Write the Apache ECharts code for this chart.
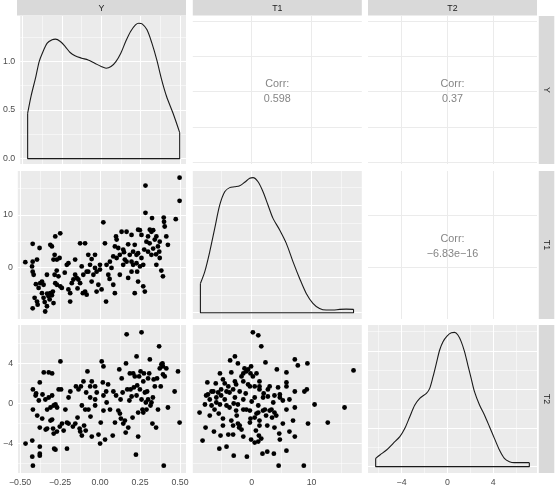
<!DOCTYPE html>
<html>
<head>
<meta charset="utf-8">
<script src="https://cdn.jsdelivr.net/npm/echarts@6/dist/echarts.min.js"></script>
<style>
  html, body { margin: 0; padding: 0; background: #fff; }
  #chart { width: 557px; height: 488px; }
</style>
</head>
<body>
<div id="chart"></div>
<script>
// variables of the pairs plot
const varNames = ['Y', 'T1', 'T2']

// axis ranges (ggplot expanded data ranges)
const yRange = [-0.513, 0.537]
const t1Range = [-9.83, 18.38]
const t2Range = [-6.93, 7.83]

// ticks and labels
const yMajor = [-0.5, -0.25, 0, 0.25, 0.5]
const yMinor = [-0.375, -0.125, 0.125, 0.375]
const yLabels = ['\u22120.50', '\u22120.25', '0.00', '0.25', '0.50']
const t1Major = [0, 10]
const t1Minor = [-5, 5, 15]
const t1Labels = ['0', '10']
const t2Major = [-4, 0, 4]
const t2Minor = [-6, -2, 2, 6]
const t2Labels = ['\u22124', '0', '4']

// density panel y scales
const yDensRange = [-0.055, 1.465]
const yDensMajor = [0, 0.5, 1.0]
const yDensMinor = [0.25, 0.75, 1.25]
const yDensLabels = ['0.0', '0.5', '1.0']
const t1DensRange = [-0.0035, 0.0793]
const t1DensMajor = [0, 0.02, 0.04, 0.06]
const t1DensMinor = [0.01, 0.03, 0.05, 0.07]
const t2DensRange = [-0.0082, 0.1836]
const t2DensMajor = [0, 0.05, 0.1, 0.15]
const t2DensMinor = [0.025, 0.075, 0.125, 0.175]

// density curves
const yDensX = [-0.466, -0.445, -0.414, -0.393, -0.373, -0.342, -0.311, -0.290, -0.259, -0.228, -0.197, -0.166, -0.124, -0.083, -0.041, 0.0, 0.031, 0.062, 0.093, 0.124, 0.155, 0.186, 0.217, 0.238, 0.259, 0.290, 0.321, 0.352, 0.383, 0.414, 0.455, 0.497]
const yDensY = [0.466, 0.638, 0.843, 0.997, 1.083, 1.186, 1.220, 1.227, 1.203, 1.151, 1.090, 1.056, 1.032, 1.014, 0.980, 0.946, 0.929, 0.946, 0.997, 1.083, 1.203, 1.306, 1.374, 1.391, 1.384, 1.323, 1.186, 1.014, 0.809, 0.638, 0.466, 0.268]
const t1DensX = [-8.56, -7.83, -7.0, -6.17, -5.33, -4.5, -3.67, -2.83, -2.0, -1.17, -0.33, 0.22, 1.06, 1.89, 2.72, 3.56, 4.67, 5.78, 6.89, 8.0, 9.11, 10.22, 11.33, 12.44, 13.56, 14.67, 15.78, 17.0]
const t1DensY = [0.0164, 0.0230, 0.0342, 0.0472, 0.0603, 0.0677, 0.0700, 0.0705, 0.0711, 0.0730, 0.0752, 0.0756, 0.0733, 0.0677, 0.0603, 0.0528, 0.0463, 0.0388, 0.0286, 0.0192, 0.0108, 0.0053, 0.0024, 0.0015, 0.0015, 0.0019, 0.0020, 0.0019]
const t2DensX = [-6.26, -5.89, -5.31, -4.73, -4.15, -3.71, -3.28, -2.84, -2.41, -1.83, -1.54, -1.25, -0.96, -0.67, -0.38, -0.03, 0.35, 0.63, 0.92, 1.21, 1.50, 1.79, 2.08, 2.37, 2.81, 3.24, 3.68, 4.11, 4.55, 4.98, 5.42, 5.85, 6.29, 6.72, 7.16]
const t2DensY = [0.0108, 0.0152, 0.0216, 0.0303, 0.0389, 0.0497, 0.0648, 0.0799, 0.0886, 0.0950, 0.1015, 0.1166, 0.1339, 0.1512, 0.1620, 0.1693, 0.1736, 0.1740, 0.1706, 0.1620, 0.1490, 0.1317, 0.1145, 0.0972, 0.0799, 0.0670, 0.0518, 0.0367, 0.0216, 0.0108, 0.0065, 0.0052, 0.0052, 0.0052, 0.0052]

// scatter points [x, y]
const yT1Points = [
  [-0.466, 1.0], [-0.42, 4.5], [-0.42, 1.1], [-0.424, 0.2], [-0.42, -0.8], [-0.414, -1.4], [-0.408, -5.8], [-0.42, -7.8],
  [-0.393, 1.5], [-0.393, -6.5], [-0.389, -7.1], [-0.377, 3.7], [-0.373, -3.0], [-0.362, -2.7], [-0.352, -3.3], [-0.383, -3.9],
  [-0.342, -8.4], [-0.331, -7.4], [-0.321, -5.5], [-0.31, -4.9], [-0.3, -5.3], [-0.314, -6.1], [-0.29, -6.8], [-0.31, 4.3],
  [-0.3, 4.0], [-0.279, 5.9], [-0.248, 6.5], [-0.283, 2.4], [-0.29, 1.5], [-0.269, 1.5], [-0.283, -1.4], [-0.259, -1.7],
  [-0.331, -1.4], [-0.279, -3.0], [-0.269, -3.3], [-0.248, -3.6], [-0.238, -3.9], [-0.352, -5.8], [-0.362, -4.9], [-0.294, -4.6],
  [-0.252, 1.8], [-0.207, 0.5], [-0.197, 0.8], [-0.186, -6.5], [-0.186, -4.9], [-0.197, -4.2], [-0.155, 1.5], [-0.155, -1.4],
  [-0.145, -2.0], [-0.135, -2.3], [-0.124, -3.0], [-0.124, 4.6], [-0.093, 4.6], [-0.093, -4.6], [-0.107, -4.9], [-0.083, -5.2],
  [-0.073, 2.4], [-0.073, -0.8], [-0.062, 0.5], [-0.052, -2.7], [-0.041, -1.4], [-0.031, -0.1], [-0.021, -0.8], [0.0, 0.5],
  [0.0, -0.4], [-0.01, -3.3], [0.01, -4.2], [0.021, 8.6], [0.031, 4.6], [0.038, -6.5], [-0.083, -0.8], [-0.104, -1.4],
  [-0.114, 0.2], [-0.166, -2.3], [-0.176, -3.0], [-0.021, -4.6], [-0.031, 2.4], [-0.052, 1.6], [0.041, 0.5], [0.052, -1.4],
  [0.083, -3.3], [0.093, -4.9], [0.1, 5.9], [0.104, 1.8], [0.114, 3.7], [0.124, 2.4], [0.135, 6.8], [0.145, 3.4],
  [0.155, 1.5], [0.166, 6.8], [0.166, 1.1], [0.176, 4.4], [0.176, -2.0], [0.186, 2.4], [0.197, 1.1], [0.197, -0.8],
  [0.207, 3.0], [0.207, 0.5], [0.217, -4.9], [0.217, 4.3], [0.228, 2.4], [0.228, 0.8], [0.232, -0.8], [0.238, -2.7],
  [0.238, 7.2], [0.145, 0.5], [0.124, -1.4], [0.072, -0.1], [0.083, 2.1], [0.062, 1.1], [0.104, 5.3], [0.093, 4.0],
  [0.197, 6.2], [0.238, 2.7], [0.249, 7.1], [0.259, 6.2], [0.27, 0.5], [0.27, -3.6], [0.28, -4.6], [0.284, 10.4],
  [0.284, 15.6], [0.29, 4.9], [0.3, 5.9], [0.311, 7.2], [0.321, 6.8], [0.332, 7.1], [0.325, 9.4], [0.342, 5.3],
  [0.352, 5.9], [0.352, 0.5], [0.362, 4.0], [0.37, 3.0], [0.373, 1.8], [0.383, -0.6], [0.393, -1.7], [0.398, 9.5],
  [0.4, 8.7], [0.404, 7.8], [0.414, 5.9], [0.424, 4.3], [0.473, 9.2], [0.497, 12.7], [0.497, 17.1], [0.321, 2.4],
  [0.3, 3.0], [0.332, 3.6], [0.373, 4.9], [0.259, 1.8], [0.276, 3.4], [-0.4, -3.2], [-0.345, -6.6], [-0.33, -5.0],
  [-0.22, -1.0], [-0.14, -4.0], [0.06, -2.2], [0.15, 2.9], [0.25, 0.2], [0.31, 4.6], [0.35, 2.5], [-0.27, -0.6]
]

const yT2Points = [
  [-0.466, -4.0], [-0.424, -3.7], [-0.424, -5.3], [-0.42, -6.2], [-0.42, -0.6], [-0.42, 1.4], [-0.403, 0.8], [-0.393, -1.2],
  [-0.383, 0.3], [-0.377, 2.1], [-0.377, -4.3], [-0.377, -5.0], [-0.377, -5.2], [-0.377, -2.4], [-0.362, -1.5], [-0.352, 3.1],
  [-0.342, 0.4], [-0.331, -0.6], [-0.331, -2.5], [-0.321, 3.1], [-0.321, 0.6], [-0.31, -0.4], [-0.31, -1.7], [-0.3, 3.0],
  [-0.3, 0.8], [-0.294, -2.5], [-0.29, -0.2], [-0.29, -3.0], [-0.287, -4.5], [-0.279, -4.6], [-0.279, -0.1], [-0.269, -0.4],
  [-0.259, 1.4], [-0.252, -2.3], [-0.248, 4.2], [-0.244, 1.4], [-0.238, -2.0], [-0.228, -2.7], [-0.217, -0.6], [-0.207, -1.9],
  [-0.207, -4.5], [-0.197, -2.0], [-0.197, 0.6], [-0.186, 1.2], [-0.155, -2.0], [-0.151, 1.7], [-0.141, -1.4], [-0.135, 1.4],
  [-0.128, -2.5], [-0.124, -2.8], [-0.12, 1.7], [-0.114, -3.2], [-0.114, -0.2], [-0.104, 2.2], [-0.1, -2.2], [-0.093, -0.6],
  [-0.087, 1.1], [-0.079, 3.2], [-0.073, -0.6], [-0.062, 1.7], [-0.062, 0.6], [-0.052, -3.3], [-0.052, 2.2], [-0.031, 1.7],
  [-0.031, 0.4], [-0.031, -0.2], [-0.021, 1.1], [-0.01, -3.1], [0.0, -4.0], [0.004, -1.9], [0.01, 4.2], [0.017, 2.1],
  [0.021, 3.7], [0.021, 0.8], [0.021, -0.7], [0.031, -3.6], [0.038, 1.2], [0.041, 0.1], [0.062, -0.6], [0.079, -3.2],
  [0.083, 1.2], [0.093, -1.9], [0.1, 0.8], [0.114, -0.7], [0.12, 3.4], [0.124, -1.0], [0.128, 0.4], [0.135, 2.5],
  [0.141, 1.1], [0.145, -2.0], [0.155, -1.7], [0.162, 4.0], [0.166, 6.9], [0.17, 1.4], [0.176, -2.4], [0.183, 0.3],
  [0.186, 3.0], [0.19, 1.4], [0.197, 0.7], [0.203, -1.4], [0.207, 3.0], [0.211, 1.6], [0.217, 2.7], [0.224, -5.1],
  [0.228, 4.7], [0.228, 0.8], [0.232, 1.8], [0.238, -3.3], [0.238, -0.9], [0.244, 2.7], [0.249, 1.4], [0.253, 3.2],
  [0.259, 7.1], [0.259, 0.4], [0.265, -0.6], [0.27, 2.2], [0.274, 3.0], [0.28, 1.1], [0.286, 0.1], [0.29, -0.6],
  [0.294, 1.2], [0.3, 0.4], [0.307, 3.0], [0.311, 4.4], [0.315, -0.2], [0.321, 0.1], [0.327, -2.0], [0.335, 2.4],
  [0.342, 1.7], [0.35, -2.4], [0.356, 2.5], [0.362, -0.6], [0.369, 5.7], [0.373, 3.5], [0.379, 1.7], [0.383, 3.9],
  [0.39, 4.0], [0.393, 2.9], [0.398, -6.2], [0.404, 2.7], [0.414, 3.5], [0.424, -0.4], [0.466, 1.2], [0.487, 3.2],
  [0.497, -1.9], [0.393, 3.7], [-0.36, 0.9], [-0.34, -2.6], [-0.27, -2.8], [-0.17, -2.3], [-0.06, -1.3], [0.05, 1.9],
  [0.13, -1.5], [0.27, -0.9], [0.33, 0.6], [-0.4, 1.0], [-0.3, -1.6], [-0.09, -2.7], [0.16, -2.9], [0.3, 2.5]
]

const t1T2Points = [
  [0.2, 7.1], [1.1, 6.8], [1.6, 5.7], [-2.8, 4.7], [-3.6, 4.3], [-2.3, 4.0], [2.3, 4.1], [7.2, 4.4],
  [9.3, 4.0], [7.7, 3.8], [17.0, 3.3], [4.2, 3.4], [5.8, 3.1], [-1.2, 3.5], [-0.6, 3.4], [-0.2, 3.0],
  [-1.4, 3.0], [-5.3, 3.0], [-3.4, 3.1], [0.8, 3.0], [-7.4, 2.1], [-4.8, 2.4], [-2.8, 2.2], [-1.7, 2.7],
  [0.2, 2.7], [1.3, 2.2], [-0.6, 1.9], [-0.3, 1.7], [1.3, 1.7], [3.0, 1.7], [4.4, 1.6], [5.8, 2.1],
  [5.8, 1.7], [7.2, 1.2], [9.2, 1.4], [8.8, 1.2], [-6.4, 1.2], [-5.6, 1.1], [-5.1, 0.8], [-4.2, 1.2],
  [-3.7, 1.1], [-3.1, 1.4], [-2.0, 1.2], [-7.6, 0.8], [-7.0, 0.4], [-5.9, 0.6], [-4.5, 0.4], [-2.8, 0.6],
  [-1.4, 0.4], [0.5, 0.6], [2.7, 0.7], [3.8, 0.8], [4.7, 0.6], [6.3, 0.4], [-7.8, -0.1], [-6.7, -0.2],
  [-6.2, -0.6], [-8.7, -0.9], [-5.3, -0.1], [-3.7, -0.4], [-2.3, -0.1], [-0.9, -0.6], [-0.3, -0.7], [1.1, -0.2],
  [2.2, -0.6], [3.3, -0.6], [3.8, -0.9], [5.2, 0.3], [7.2, -0.4], [10.5, -0.1], [15.5, -0.4], [-7.0, -1.2],
  [-4.8, -1.5], [-3.4, -1.7], [-2.0, -2.2], [-0.2, -1.5], [0.5, -1.4], [1.3, -1.7], [2.4, -1.2], [3.4, -1.4],
  [4.1, -1.2], [5.2, -2.0], [6.9, -1.7], [9.4, -2.0], [12.7, -1.9], [-7.7, -2.4], [-6.3, -2.8], [-5.2, -3.2],
  [-3.9, -3.1], [-3.1, -3.1], [-2.1, -2.4], [-1.7, -2.6], [0.7, -2.7], [1.2, -3.2], [2.6, -2.2], [3.8, -2.4],
  [4.6, -3.0], [4.7, -3.6], [6.3, -2.8], [7.2, -3.3], [-8.2, -3.7], [-5.4, -4.5], [-4.2, -4.3], [0.5, -3.9],
  [1.1, -3.8], [-3.0, -5.2], [-0.8, -5.3], [1.8, -5.0], [2.6, -4.8], [3.7, -5.0], [5.8, -4.7], [4.5, -6.2],
  [8.7, -6.2], [-7.3, 0.9], [-6.7, 1.2], [-5.1, 1.4], [-3.9, 1.7], [-2.6, 1.9], [-1.4, 2.2], [-0.9, 3.2],
  [-0.1, 3.7], [1.3, 1.4], [1.9, 0.6], [1.1, -0.9], [1.9, -0.7], [3.0, -0.7], [-1.4, -0.6], [-2.6, -0.7],
  [-4.2, -0.2], [-5.9, 0.1], [-3.1, -2.2], [-2.3, -2.0], [-0.3, -1.9], [1.3, -2.2], [-0.1, -3.6], [1.6, -3.5],
  [-1.4, -3.3], [-4.8, -2.2], [4.7, 0.9], [5.8, -0.6], [3.6, 0.1], [0.5, 1.7], [2.7, 1.4], [-6.0, 2.0],
  [-4.5, 2.0], [-3.0, 0.0], [-1.0, 1.0], [0.0, 0.2], [0.8, -1.0], [2.0, 1.0], [-2.5, -1.2], [-5.5, -1.0]
]

// correlations shown in the upper panels: [row, col, text]
const corrCells = [[0, 1], [0, 2], [1, 2]]
const corrText = ['0.598', '0.37', '\u22126.83e\u221216']

// layout
const colLeft = [17, 192.8, 368]
const rowTop = [16, 171, 325]
const panelW = 169
const panelH = 148
const stripSize = 15.5

const varRanges = [yRange, t1Range, t2Range]
const varMajor = [yMajor, t1Major, t2Major]
const varMinor = [yMinor, t1Minor, t2Minor]
const varLabels = [yLabels, t1Labels, t2Labels]
const densRanges = [yDensRange, t1DensRange, t2DensRange]
const densMajor = [yDensMajor, t1DensMajor, t2DensMajor]
const densMinor = [yDensMinor, t1DensMinor, t2DensMinor]
const densX = [yDensX, t1DensX, t2DensX]
const densY = [yDensY, t1DensY, t2DensY]
const scatterData = { '1,0': yT1Points, '2,0': yT2Points, '2,1': t1T2Points }

const font = 'Liberation Sans, Arial, Helvetica, sans-serif'
const chart = echarts.init(document.getElementById('chart'))

function labelFor(ticks, labels) {
  return function(v) {
    for (let i = 0; i < ticks.length; i++) {
      if (Math.abs(ticks[i] - v) < 1e-9) return labels[i]
    }
    return ''
  }
}

function gridSeries(idx, xTicks, yTicks, xR, yR, color, width) {
  const data = []
  xTicks.forEach(v => data.push({ coords: [[v, yR[0]], [v, yR[1]]] }))
  yTicks.forEach(v => data.push({ coords: [[xR[0], v], [xR[1], v]] }))
  return {
    type: 'lines',
    coordinateSystem: 'cartesian2d',
    xAxisIndex: idx,
    yAxisIndex: idx,
    silent: true,
    z: 1,
    lineStyle: { color: color, width: width, opacity: 1 },
    data: data
  }
}

const grids = []
const xAxes = []
const yAxes = []
const series = []
const graphics = []

for (let r = 0; r < 3; r++) {
  for (let c = 0; c < 3; c++) {
    const idx = r * 3 + c
    const upper = r < c
    const diag = r === c
    const xR = varRanges[c]
    const yR = diag ? densRanges[r] : (upper && r === 0 ? yRange : varRanges[r])
    grids.push({
      left: colLeft[c],
      top: rowTop[r],
      width: panelW,
      height: panelH,
      show: true,
      backgroundColor: upper ? '#FFFFFF' : '#EBEBEB',
      borderWidth: 0
    })
    const bottomRow = r === 2
    xAxes.push({
      type: 'value',
      gridIndex: idx,
      min: xR[0],
      max: xR[1],
      axisLine: { show: false },
      splitLine: { show: false },
      axisTick: {
        show: bottomRow,
        customValues: varMajor[c],
        length: 3,
        lineStyle: { color: '#333333', width: 0.8 }
      },
      axisLabel: {
        show: bottomRow,
        customValues: varMajor[c],
        margin: 5,
        color: '#4D4D4D',
        fontSize: 8.8,
        fontFamily: font,
        formatter: labelFor(varMajor[c], varLabels[c])
      }
    })
    const firstCol = c === 0
    const yTickVals = r === 0 ? yDensMajor : varMajor[r]
    const yTickLabels = r === 0 ? yDensLabels : varLabels[r]
    yAxes.push({
      type: 'value',
      gridIndex: idx,
      min: yR[0],
      max: yR[1],
      axisLine: { show: false },
      splitLine: { show: false },
      axisTick: {
        show: firstCol,
        customValues: yTickVals,
        length: 3,
        lineStyle: { color: '#333333', width: 0.8 }
      },
      axisLabel: {
        show: firstCol,
        customValues: yTickVals,
        margin: 5,
        color: '#4D4D4D',
        fontSize: 8.8,
        fontFamily: font,
        formatter: labelFor(yTickVals, yTickLabels)
      }
    })

    // grid lines
    if (upper) {
      series.push(gridSeries(idx, varMajor[c], r === 0 ? yMajor : varMajor[r], xR, yR, '#EBEBEB', 1))
    } else {
      const yMaj = diag ? densMajor[r] : varMajor[r]
      const yMin = diag ? densMinor[r] : varMinor[r]
      series.push(gridSeries(idx, varMinor[c], yMin, xR, yR, '#FFFFFF', 0.5))
      series.push(gridSeries(idx, varMajor[c], yMaj, xR, yR, '#FFFFFF', 1.05))
    }

    if (diag) {
      const xs = densX[r]
      const ys = densY[r]
      const n = xs.length
      series.push({
        type: 'line',
        xAxisIndex: idx,
        yAxisIndex: idx,
        data: xs.map((x, i) => [x, ys[i]]),
        showSymbol: false,
        smooth: 0.3,
        z: 3,
        lineStyle: { color: '#1A1A1A', width: 1.1 }
      })
      series.push({
        type: 'line',
        xAxisIndex: idx,
        yAxisIndex: idx,
        data: [[xs[0], ys[0]], [xs[0], 0], [xs[n - 1], 0], [xs[n - 1], ys[n - 1]]],
        showSymbol: false,
        z: 3,
        lineStyle: { color: '#1A1A1A', width: 1.1 }
      })
    } else if (!upper) {
      series.push({
        type: 'scatter',
        xAxisIndex: idx,
        yAxisIndex: idx,
        data: scatterData[r + ',' + c],
        symbolSize: 4.8,
        z: 3,
        itemStyle: { color: '#000000', opacity: 1 }
      })
    }
  }
}

// correlation text
corrCells.forEach((cell, i) => {
  const r = cell[0]
  const c = cell[1]
  graphics.push({
    type: 'text',
    x: colLeft[c] + panelW / 2,
    y: rowTop[r] + panelH / 2 + 1.5,
    style: {
      text: 'Corr:\n' + corrText[i],
      fill: '#858585',
      fontSize: 10.8,
      fontFamily: font,
      lineHeight: 15,
      textAlign: 'center',
      textVerticalAlign: 'middle'
    },
    z: 10
  })
})

// facet strips
varNames.forEach((name, c) => {
  graphics.push({
    type: 'rect',
    shape: { x: colLeft[c], y: 0, width: panelW, height: stripSize },
    style: { fill: '#D9D9D9' },
    z: 5
  })
  graphics.push({
    type: 'text',
    x: colLeft[c] + panelW / 2,
    y: stripSize / 2 + 0.5,
    style: {
      text: name, fill: '#1A1A1A', fontSize: 8.8, fontFamily: font,
      textAlign: 'center', textVerticalAlign: 'middle'
    },
    z: 6
  })
})
varNames.forEach((name, r) => {
  const sx = colLeft[2] + panelW + 1.8
  graphics.push({
    type: 'rect',
    shape: { x: sx, y: rowTop[r], width: stripSize, height: panelH },
    style: { fill: '#D9D9D9' },
    z: 5
  })
  graphics.push({
    type: 'text',
    x: sx + stripSize / 2,
    y: rowTop[r] + panelH / 2,
    rotation: -Math.PI / 2,
    style: {
      text: name, fill: '#1A1A1A', fontSize: 8.8, fontFamily: font,
      textAlign: 'center', textVerticalAlign: 'middle'
    },
    z: 6
  })
})

chart.setOption({
  animation: false,
  backgroundColor: '#FFFFFF',
  grid: grids,
  xAxis: xAxes,
  yAxis: yAxes,
  series: series,
  graphic: graphics
})
</script>
</body>
</html>
